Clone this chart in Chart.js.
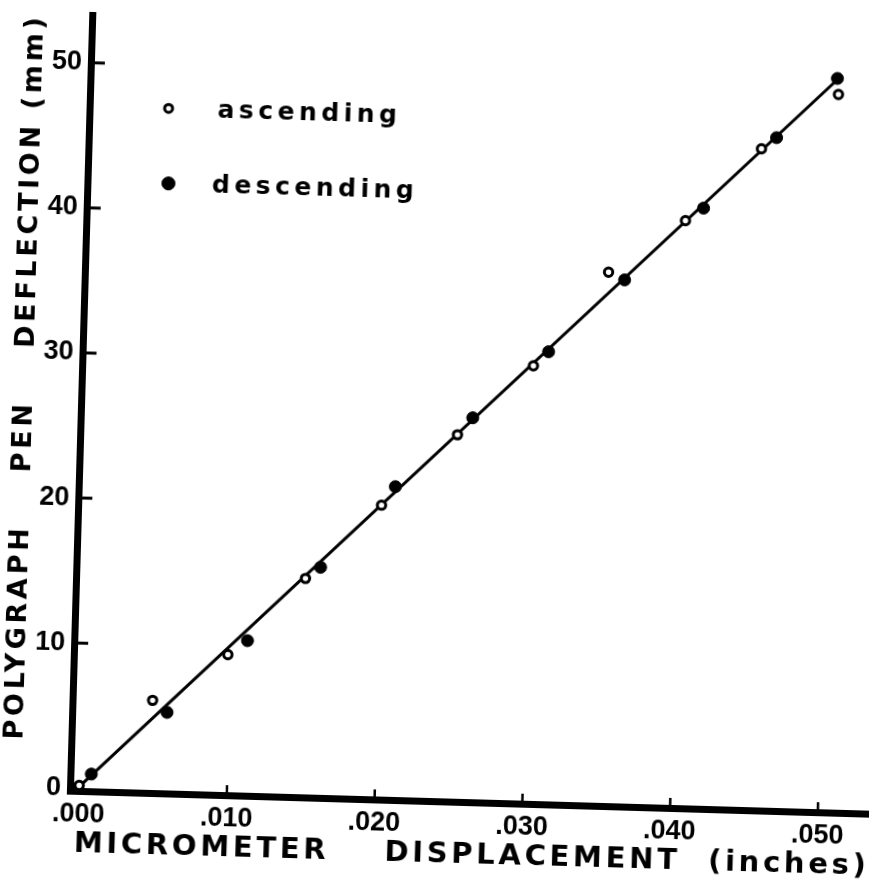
<!DOCTYPE html>
<html><head><meta charset="utf-8">
<script src="https://cdn.jsdelivr.net/npm/chart.js@4/dist/chart.umd.min.js"></script>
<style>
html,body{margin:0;padding:0;background:#fff;overflow:hidden;width:869px;height:892px;}
#wrap{position:absolute;left:0;top:0;width:900px;height:892px;transform:rotate(1.65deg);transform-origin:434.5px 446px;}
canvas{display:block;}
</style></head><body>
<div id="wrap"><canvas id="c" width="900" height="892"></canvas></div>
<script>
// ---- data ----
const ascendingX  = [0.0000, 0.0048, 0.0098, 0.0149, 0.0199, 0.0249, 0.0299, 0.0348, 0.0399, 0.0449, 0.0500];
const ascendingY  = [0.2,    6.2,    9.5,    14.9,   20.1,   25.1,   30.0,   36.6,   40.3,   45.4,   49.3];
const descendingX = [0.0008, 0.0058, 0.0111, 0.0159, 0.0208, 0.0259, 0.0309, 0.0359, 0.0411, 0.0459, 0.0499];
const descendingY = [1.0,    5.4,    10.5,   15.7,   21.4,   26.3,   31.0,   36.1,   41.2,   46.2,   50.4];
const fitX = [0.00025, 0.0501];
const fitY = [0.36, 50.52];
const seriesLabels = ['ascending', 'descending'];
const xTickValues = [0, 0.01, 0.02, 0.03, 0.04, 0.05];
const xTickLabels = ['.000', '.010', '.020', '.030', '.040', '.050'];
const yTickValues = [0, 10, 20, 30, 40, 50];
const yTickLabels = ['0', '10', '20', '30', '40', '50'];
const xTitle = 'MICROMETER    DISPLACEMENT  (inches)';
const yTitle = 'POLYGRAPH    PEN    DEFLECTION (mm)';

const pts = (xs, ys) => xs.map((x, i) => ({x: x, y: ys[i]}));

const spacingPlugin = {
  id: 'spacing',
  beforeDraw(chart) { chart.ctx.letterSpacing = '3.7px'; },
  beforeDatasetsDraw(chart) { chart.ctx.letterSpacing = '0px'; }
};

const tickMarkPlugin = {
  id: 'inwardTicks',
  afterDraw(chart) {
    const ctx = chart.ctx, a = chart.chartArea, x = chart.scales.x, y = chart.scales.y;
    ctx.save();
    ctx.letterSpacing = '0px';
    ctx.strokeStyle = '#000';
    ctx.lineCap = 'butt';
    ctx.lineWidth = 3;
    yTickValues.forEach(v => {
      if (v === 0) return;
      const py = y.getPixelForValue(v);
      ctx.beginPath(); ctx.moveTo(a.left, py); ctx.lineTo(a.left + 14, py); ctx.stroke();
    });
    ctx.lineWidth = 2.5;
    xTickValues.forEach(v => {
      if (v === 0) return;
      const px = x.getPixelForValue(v);
      ctx.beginPath(); ctx.moveTo(px, a.bottom); ctx.lineTo(px, a.bottom - 10); ctx.stroke();
    });
    ctx.restore();
  }
};

const legendPlugin = {
  id: 'innerLegend',
  afterDraw(chart) {
    const ctx = chart.ctx, a = chart.chartArea;
    const spots = [
      {mx: 79, my: 91, r: 4, tx: 128, ty: 98.5},
      {mx: 81, my: 166, r: 6.5, tx: 124.5, ty: 173.5}
    ];
    ctx.save();
    spots.forEach((s, i) => {
      const ds = chart.data.datasets[i];
      ctx.beginPath();
      ctx.arc(a.left + s.mx, a.top + s.my, s.r, 0, Math.PI * 2);
      ctx.fillStyle = ds.pointBackgroundColor;
      ctx.fill();
      ctx.lineWidth = ds.pointBorderWidth;
      ctx.strokeStyle = ds.pointBorderColor;
      ctx.stroke();
      ctx.letterSpacing = '4.5px';
      ctx.font = 'bold 25px "DejaVu Sans"';
      ctx.fillStyle = '#000';
      ctx.textAlign = 'left';
      ctx.textBaseline = 'alphabetic';
      ctx.fillText(ds.label, a.left + s.tx, a.top + s.ty);
    });
    ctx.restore();
  }
};

new Chart(document.getElementById('c').getContext('2d'), {
  type: 'scatter',
  data: {
    datasets: [
      {label: seriesLabels[0], data: pts(ascendingX, ascendingY), pointStyle: 'circle',
       pointRadius: 4.2, pointBorderWidth: 3, pointBackgroundColor: '#fff', pointBorderColor: '#000',
       backgroundColor: '#fff', borderColor: '#000'},
      {label: seriesLabels[1], data: pts(descendingX, descendingY), pointStyle: 'circle',
       pointRadius: 6, pointBorderWidth: 1, pointBackgroundColor: '#000', pointBorderColor: '#000',
       backgroundColor: '#000', borderColor: '#000'},
      {label: 'fit', data: pts(fitX, fitY), showLine: true, pointRadius: 0,
       borderColor: '#000', borderWidth: 3, fill: false}
    ]
  },
  options: {
    responsive: false,
    animation: false,
    devicePixelRatio: 1,
    layout: {padding: {top: 18, right: 13, left: 0, bottom: 0}},
    plugins: {legend: {display: false}, tooltip: {enabled: false}},
    scales: {
      x: {
        type: 'linear', position: 'bottom', min: -0.000616, max: 0.05398,
        afterFit(s) { s.height = 91; },
        afterBuildTicks(s) { s.ticks = xTickValues.map(v => ({value: v})); },
        grid: {display: false, drawTicks: false},
        border: {display: true, color: '#000', width: 7},
        ticks: {z: 1, padding: 7, maxRotation: 0, minRotation: 0, autoSkip: false, color: '#000',
                font: {family: 'Liberation Sans', weight: 'bold', size: 27},
                callback: (v, i) => xTickLabels[i]},
        title: {display: true, text: xTitle, color: '#000',
                font: {family: 'DejaVu Sans', weight: 'bold', size: 29},
                padding: {top: 0, bottom: 20}}
      },
      y: {
        type: 'linear', position: 'left', min: -0.184, max: 53.28,
        afterFit(s) { s.width = 80; },
        afterBuildTicks(s) { s.ticks = yTickValues.map(v => ({value: v})); },
        grid: {display: false, drawTicks: false},
        border: {display: true, color: '#000', width: 7},
        ticks: {z: 1, padding: 9, color: '#000',
                font: {family: 'Liberation Sans', weight: 'bold', size: 27},
                callback: (v, i) => yTickLabels[i]},
        title: {display: true, text: yTitle, align: 'end', color: '#000',
                font: {family: 'DejaVu Sans', weight: 'bold', size: 27},
                padding: {top: 8, bottom: 0}}
      }
    }
  },
  plugins: [spacingPlugin, tickMarkPlugin, legendPlugin]
});
</script>
</body></html>
